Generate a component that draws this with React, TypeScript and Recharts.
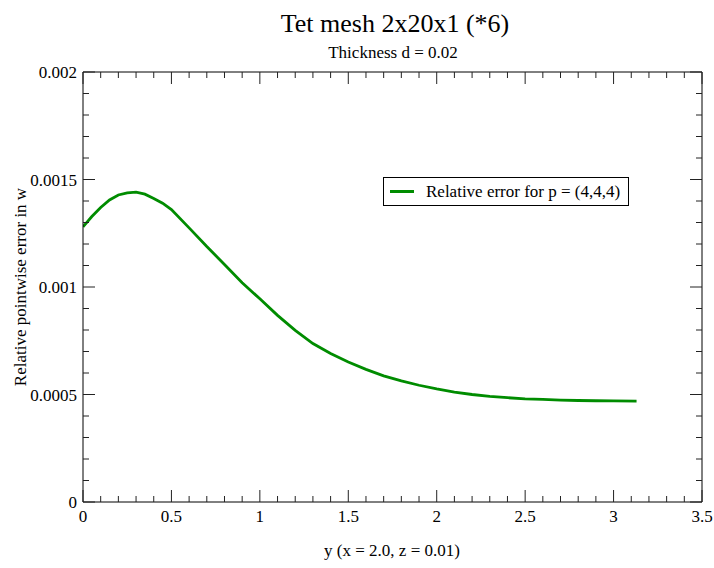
import { LineChart, Line, XAxis, YAxis, Legend } from 'recharts'

// y position along the line (x = 2.0, z = 0.01) and relative error in w
const yPos = [
  0, 0.05, 0.1, 0.15, 0.2, 0.25, 0.3, 0.35, 0.4, 0.45, 0.5, 0.6, 0.7, 0.8, 0.9, 1.0,
  1.1, 1.2, 1.3, 1.4, 1.5, 1.6, 1.7, 1.8, 1.9, 2.0, 2.1, 2.2, 2.3, 2.4, 2.5, 2.6,
  2.7, 2.8, 2.9, 3.0, 3.13,
]
const relError = [
  0.00128, 0.001328, 0.00137, 0.001405, 0.001428, 0.001438, 0.001441, 0.001432,
  0.001412, 0.00139, 0.00136, 0.001275, 0.001188, 0.001105, 0.00102, 0.000945,
  0.000868, 0.000798, 0.000737, 0.000691, 0.000651, 0.000617, 0.000587, 0.000563,
  0.000543, 0.000526, 0.000511, 0.0005, 0.000491, 0.000485, 0.00048, 0.000477,
  0.000474, 0.000472, 0.000471, 0.00047, 0.000469,
]

const xTicks = [
  0, 0.1, 0.2, 0.3, 0.4, 0.5, 0.6, 0.7, 0.8, 0.9, 1, 1.1, 1.2, 1.3, 1.4, 1.5, 1.6, 1.7,
  1.8, 1.9, 2, 2.1, 2.2, 2.3, 2.4, 2.5, 2.6, 2.7, 2.8, 2.9, 3, 3.1, 3.2, 3.3, 3.4, 3.5,
]
const yTicks = [
  0, 0.0001, 0.0002, 0.0003, 0.0004, 0.0005, 0.0006, 0.0007, 0.0008, 0.0009, 0.001,
  0.0011, 0.0012, 0.0013, 0.0014, 0.0015, 0.0016, 0.0017, 0.0018, 0.0019, 0.002,
]
const xLabels = ['0', '0.5', '1', '1.5', '2', '2.5', '3', '3.5']
const yLabels = ['0', '0.0005', '0.001', '0.0015', '0.002']

const data = yPos.map((y, i) => ({ y, err: relError[i] }))

const FONT = '"Liberation Serif", "DejaVu Serif", serif'
const GREEN = '#008c00'
const TICK = '#222'

const isMajor = (v: number, step: number) =>
  Math.abs(v / step - Math.round(v / step)) < 1e-6

const BottomTick = (props: any) => {
  const { x, y, payload } = props
  const major = isMajor(payload.value, 0.5)
  const idx = Math.round(payload.value / 0.5)
  return (
    <g>
      <line x1={x} x2={x} y1={y} y2={y - (major ? 12 : 6)} stroke={TICK} />
      {major && (
        <text x={x} y={y + 20} textAnchor="middle" fontFamily={FONT} fontSize={17} fill="#000">
          {xLabels[idx]}
        </text>
      )}
    </g>
  )
}

const TopTick = (props: any) => {
  const { x, y, payload } = props
  const major = isMajor(payload.value, 0.5)
  return <line x1={x} x2={x} y1={y} y2={y + (major ? 12 : 6)} stroke={TICK} />
}

const LeftTick = (props: any) => {
  const { x, y, payload } = props
  const major = isMajor(payload.value, 0.0005)
  const idx = Math.round(payload.value / 0.0005)
  return (
    <g>
      <line x1={x} x2={x + (major ? 12 : 6)} y1={y} y2={y} stroke={TICK} />
      {major && (
        <text x={x - 6} y={y + 6} textAnchor="end" fontFamily={FONT} fontSize={17} fill="#000">
          {yLabels[idx]}
        </text>
      )}
    </g>
  )
}

const RightTick = (props: any) => {
  const { x, y, payload } = props
  const major = isMajor(payload.value, 0.0005)
  return <line x1={x} x2={x - (major ? 12 : 6)} y1={y} y2={y} stroke={TICK} />
}

const LegendBox = () => (
  <div
    style={{
      boxSizing: 'border-box',
      width: 246,
      height: 29,
      border: '1px solid #000',
      background: '#fff',
      paddingLeft: 6,
      display: 'flex',
      alignItems: 'center',
      fontFamily: FONT,
      fontSize: 17,
      color: '#000',
      whiteSpace: 'nowrap',
    }}
  >
    <span
      style={{ display: 'inline-block', width: 24, height: 3, background: GREEN, marginRight: 12 }}
    />
    Relative error for p = (4,4,4)
  </div>
)

export default function App() {
  return (
    <div style={{ position: 'absolute', left: 0, top: 0, width: 714, height: 568, background: '#fff' }}>
      <svg width={714} height={568} style={{ position: 'absolute', left: 0, top: 0 }}>
        <text x={395} y={32} textAnchor="middle" fontFamily={FONT} fontSize={26} fill="#000">
          Tet mesh 2x20x1 (*6)
        </text>
        <text x={393} y={58} textAnchor="middle" fontFamily={FONT} fontSize={17} fill="#000">
          Thickness d = 0.02
        </text>
        <text x={392} y={556} textAnchor="middle" fontFamily={FONT} fontSize={17} fill="#000">
          y (x = 2.0, z = 0.01)
        </text>
        <text
          x={26}
          y={287}
          textAnchor="middle"
          fontFamily={FONT}
          fontSize={17}
          fill="#000"
          transform="rotate(-90 26 287)"
        >
          Relative pointwise error in w
        </text>
      </svg>
      <LineChart
        width={714}
        height={568}
        data={data}
        margin={{ top: 71, right: 11, bottom: 6, left: 23 }}
        style={{ position: 'absolute', left: 0, top: 0 }}
      >
        <XAxis
          dataKey="y"
          type="number"
          domain={[0, 3.5]}
          ticks={xTicks}
          interval={0}
          allowDataOverflow
          height={60}
          tickSize={0}
          tickMargin={0}
          tickLine={false}
          tick={<BottomTick />}
          axisLine={{ stroke: '#000' }}
        />
        <XAxis
          xAxisId="top"
          orientation="top"
          dataKey="y"
          type="number"
          domain={[0, 3.5]}
          ticks={xTicks}
          interval={0}
          allowDataOverflow
          height={1}
          tickSize={0}
          tickMargin={0}
          tickLine={false}
          tick={<TopTick />}
          axisLine={{ stroke: '#000' }}
        />
        <YAxis
          type="number"
          domain={[0, 0.002]}
          ticks={yTicks}
          interval={0}
          allowDataOverflow
          width={60}
          tickSize={0}
          tickMargin={0}
          tickLine={false}
          tick={<LeftTick />}
          axisLine={{ stroke: '#000' }}
        />
        <YAxis
          yAxisId="right"
          orientation="right"
          type="number"
          domain={[0, 0.002]}
          ticks={yTicks}
          interval={0}
          allowDataOverflow
          width={1}
          tickSize={0}
          tickMargin={0}
          tickLine={false}
          tick={<RightTick />}
          axisLine={{ stroke: '#000' }}
        />
        <Legend
          layout="vertical"
          align="center"
          verticalAlign="middle"
          content={<LegendBox />}
          wrapperStyle={{ left: 383, top: 177, width: 'auto', height: 'auto' }}
        />
        <Line
          dataKey="err"
          type="linear"
          stroke={GREEN}
          strokeWidth={2.8}
          dot={false}
          isAnimationActive={false}
        />
      </LineChart>
    </div>
  )
}
